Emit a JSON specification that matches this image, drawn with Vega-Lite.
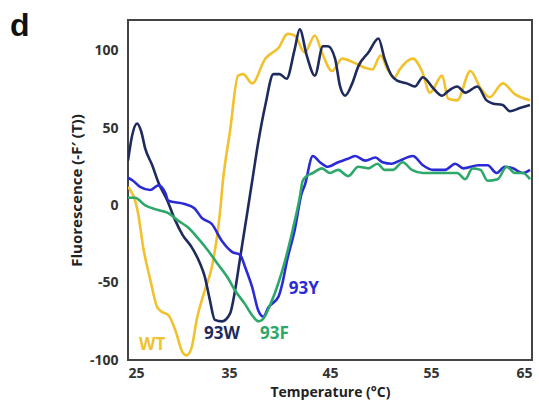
{
  "$schema": "https://vega.github.io/schema/vega-lite/v6.json",
  "width": 404,
  "height": 340,
  "autosize": "none",
  "padding": {"left": 128, "top": 20, "right": 7, "bottom": 43},
  "background": "white",
  "title": {"text": "d", "anchor": "start", "frame": "group", "orient": "top", "fontSize": 32, "fontWeight": "bold", "font": "Liberation Sans", "color": "#111", "dx": -118, "baseline": "alphabetic", "offset": 0, "dy": 48},
  "config": {
    "view": {"stroke": "#444", "strokeWidth": 2},
    "axis": {"domain": false, "ticks": false, "grid": false, "labelFont": "Open Sans", "labelFontWeight": "bold", "labelFontSize": 14, "labelColor": "#333", "titleFont": "Open Sans", "titleFontWeight": "bold", "titleFontSize": 15, "titleColor": "#222", "labelExpr": "replace(datum.label, '−', '-')"}
  },
  "datasets": {
    "curves": [
      {"s": "WT", "T": 25.0, "F": 12}, {"s": "WT", "T": 26.0, "F": -5}, {"s": "WT", "T": 26.5, "F": -27}, {"s": "WT", "T": 27.2, "F": -48}, {"s": "WT", "T": 27.9, "F": -66}, {"s": "WT", "T": 28.4, "F": -69}, {"s": "WT", "T": 29.0, "F": -71}, {"s": "WT", "T": 29.7, "F": -81}, {"s": "WT", "T": 30.4, "F": -95}, {"s": "WT", "T": 30.8, "F": -97}, {"s": "WT", "T": 31.3, "F": -92}, {"s": "WT", "T": 31.8, "F": -74}, {"s": "WT", "T": 32.6, "F": -55}, {"s": "WT", "T": 33.3, "F": -40}, {"s": "WT", "T": 34.1, "F": -5}, {"s": "WT", "T": 34.4, "F": 16}, {"s": "WT", "T": 35.1, "F": 48}, {"s": "WT", "T": 35.9, "F": 84}, {"s": "WT", "T": 36.4, "F": 85}, {"s": "WT", "T": 37.3, "F": 79}, {"s": "WT", "T": 38.6, "F": 95}, {"s": "WT", "T": 38.9, "F": 97}, {"s": "WT", "T": 39.9, "F": 102}, {"s": "WT", "T": 40.8, "F": 111}, {"s": "WT", "T": 41.5, "F": 110}, {"s": "WT", "T": 42.5, "F": 99}, {"s": "WT", "T": 43.5, "F": 110}, {"s": "WT", "T": 44.2, "F": 99}, {"s": "WT", "T": 45.2, "F": 87}, {"s": "WT", "T": 46.2, "F": 95}, {"s": "WT", "T": 47.5, "F": 92}, {"s": "WT", "T": 48.5, "F": 89}, {"s": "WT", "T": 49.2, "F": 88}, {"s": "WT", "T": 50.0, "F": 97}, {"s": "WT", "T": 50.7, "F": 88}, {"s": "WT", "T": 51.4, "F": 83}, {"s": "WT", "T": 51.9, "F": 88}, {"s": "WT", "T": 53.2, "F": 95}, {"s": "WT", "T": 54.1, "F": 87}, {"s": "WT", "T": 54.9, "F": 73}, {"s": "WT", "T": 56.1, "F": 84}, {"s": "WT", "T": 56.7, "F": 69}, {"s": "WT", "T": 57.6, "F": 68}, {"s": "WT", "T": 58.9, "F": 87}, {"s": "WT", "T": 59.9, "F": 76}, {"s": "WT", "T": 60.8, "F": 70}, {"s": "WT", "T": 62.1, "F": 79}, {"s": "WT", "T": 63.3, "F": 72}, {"s": "WT", "T": 64.8, "F": 68},

      {"s": "93W", "T": 25.0, "F": 29}, {"s": "93W", "T": 25.4, "F": 45}, {"s": "93W", "T": 25.9, "F": 53}, {"s": "93W", "T": 26.3, "F": 48}, {"s": "93W", "T": 26.7, "F": 37}, {"s": "93W", "T": 27.4, "F": 26}, {"s": "93W", "T": 28.0, "F": 15}, {"s": "93W", "T": 28.9, "F": 3}, {"s": "93W", "T": 29.7, "F": -10}, {"s": "93W", "T": 30.4, "F": -19}, {"s": "93W", "T": 31.3, "F": -27}, {"s": "93W", "T": 32.1, "F": -37}, {"s": "93W", "T": 32.6, "F": -46}, {"s": "93W", "T": 33.1, "F": -61}, {"s": "93W", "T": 33.6, "F": -74}, {"s": "93W", "T": 34.3, "F": -75}, {"s": "93W", "T": 35.1, "F": -70}, {"s": "93W", "T": 35.6, "F": -55}, {"s": "93W", "T": 36.1, "F": -34}, {"s": "93W", "T": 36.8, "F": -5}, {"s": "93W", "T": 37.3, "F": 16}, {"s": "93W", "T": 37.9, "F": 41}, {"s": "93W", "T": 38.6, "F": 65}, {"s": "93W", "T": 39.4, "F": 85}, {"s": "93W", "T": 40.0, "F": 85}, {"s": "93W", "T": 40.7, "F": 82}, {"s": "93W", "T": 41.5, "F": 101}, {"s": "93W", "T": 42.0, "F": 114}, {"s": "93W", "T": 42.7, "F": 97}, {"s": "93W", "T": 43.5, "F": 84}, {"s": "93W", "T": 44.3, "F": 103}, {"s": "93W", "T": 44.8, "F": 103}, {"s": "93W", "T": 45.5, "F": 95}, {"s": "93W", "T": 46.0, "F": 77}, {"s": "93W", "T": 46.5, "F": 71}, {"s": "93W", "T": 47.2, "F": 79}, {"s": "93W", "T": 47.8, "F": 90}, {"s": "93W", "T": 48.8, "F": 99}, {"s": "93W", "T": 49.8, "F": 108}, {"s": "93W", "T": 50.4, "F": 95}, {"s": "93W", "T": 51.1, "F": 84}, {"s": "93W", "T": 51.6, "F": 81}, {"s": "93W", "T": 52.6, "F": 79}, {"s": "93W", "T": 53.4, "F": 77}, {"s": "93W", "T": 54.2, "F": 83}, {"s": "93W", "T": 55.2, "F": 76}, {"s": "93W", "T": 56.1, "F": 71}, {"s": "93W", "T": 56.7, "F": 74}, {"s": "93W", "T": 57.6, "F": 77}, {"s": "93W", "T": 58.4, "F": 73}, {"s": "93W", "T": 59.6, "F": 77}, {"s": "93W", "T": 60.5, "F": 68}, {"s": "93W", "T": 61.1, "F": 66}, {"s": "93W", "T": 62.1, "F": 65}, {"s": "93W", "T": 62.8, "F": 61}, {"s": "93W", "T": 63.8, "F": 63}, {"s": "93W", "T": 64.8, "F": 65},

      {"s": "93Y", "T": 25.0, "F": 18}, {"s": "93Y", "T": 25.5, "F": 16}, {"s": "93Y", "T": 26.2, "F": 12}, {"s": "93Y", "T": 27.2, "F": 10}, {"s": "93Y", "T": 28.0, "F": 13}, {"s": "93Y", "T": 28.7, "F": 8}, {"s": "93Y", "T": 29.0, "F": 3}, {"s": "93Y", "T": 30.6, "F": 1}, {"s": "93Y", "T": 31.6, "F": -2}, {"s": "93Y", "T": 32.3, "F": -8}, {"s": "93Y", "T": 33.3, "F": -12}, {"s": "93Y", "T": 34.3, "F": -23}, {"s": "93Y", "T": 35.3, "F": -30}, {"s": "93Y", "T": 36.1, "F": -32}, {"s": "93Y", "T": 36.6, "F": -40}, {"s": "93Y", "T": 37.3, "F": -53}, {"s": "93Y", "T": 37.9, "F": -68}, {"s": "93Y", "T": 38.4, "F": -72}, {"s": "93Y", "T": 38.9, "F": -66}, {"s": "93Y", "T": 39.9, "F": -59}, {"s": "93Y", "T": 40.3, "F": -50}, {"s": "93Y", "T": 40.7, "F": -37}, {"s": "93Y", "T": 41.5, "F": -16}, {"s": "93Y", "T": 42.2, "F": 8}, {"s": "93Y", "T": 42.5, "F": 13}, {"s": "93Y", "T": 43.3, "F": 32}, {"s": "93Y", "T": 44.0, "F": 28}, {"s": "93Y", "T": 44.8, "F": 25}, {"s": "93Y", "T": 45.8, "F": 28}, {"s": "93Y", "T": 46.7, "F": 30}, {"s": "93Y", "T": 47.5, "F": 32}, {"s": "93Y", "T": 48.5, "F": 29}, {"s": "93Y", "T": 49.5, "F": 31}, {"s": "93Y", "T": 50.2, "F": 28}, {"s": "93Y", "T": 51.1, "F": 27}, {"s": "93Y", "T": 51.9, "F": 29}, {"s": "93Y", "T": 53.2, "F": 32}, {"s": "93Y", "T": 54.2, "F": 26}, {"s": "93Y", "T": 55.2, "F": 23}, {"s": "93Y", "T": 56.4, "F": 23}, {"s": "93Y", "T": 57.4, "F": 27}, {"s": "93Y", "T": 58.2, "F": 24}, {"s": "93Y", "T": 59.7, "F": 26}, {"s": "93Y", "T": 60.6, "F": 26}, {"s": "93Y", "T": 61.5, "F": 21}, {"s": "93Y", "T": 62.3, "F": 25}, {"s": "93Y", "T": 63.1, "F": 24}, {"s": "93Y", "T": 64.1, "F": 21}, {"s": "93Y", "T": 64.8, "F": 23},

      {"s": "93F", "T": 25.0, "F": 5}, {"s": "93F", "T": 25.7, "F": 5}, {"s": "93F", "T": 26.7, "F": 0}, {"s": "93F", "T": 28.0, "F": -3}, {"s": "93F", "T": 29.0, "F": -5}, {"s": "93F", "T": 30.0, "F": -10}, {"s": "93F", "T": 30.9, "F": -14}, {"s": "93F", "T": 31.9, "F": -21}, {"s": "93F", "T": 32.9, "F": -29}, {"s": "93F", "T": 33.9, "F": -38}, {"s": "93F", "T": 34.8, "F": -46}, {"s": "93F", "T": 35.6, "F": -55}, {"s": "93F", "T": 36.6, "F": -64}, {"s": "93F", "T": 37.4, "F": -72}, {"s": "93F", "T": 37.9, "F": -75}, {"s": "93F", "T": 38.3, "F": -74}, {"s": "93F", "T": 39.1, "F": -64}, {"s": "93F", "T": 39.9, "F": -50}, {"s": "93F", "T": 40.5, "F": -37}, {"s": "93F", "T": 41.3, "F": -16}, {"s": "93F", "T": 42.0, "F": 5}, {"s": "93F", "T": 42.3, "F": 16}, {"s": "93F", "T": 42.7, "F": 19}, {"s": "93F", "T": 43.3, "F": 21}, {"s": "93F", "T": 44.2, "F": 24}, {"s": "93F", "T": 45.0, "F": 21}, {"s": "93F", "T": 45.8, "F": 23}, {"s": "93F", "T": 46.8, "F": 19}, {"s": "93F", "T": 47.8, "F": 25}, {"s": "93F", "T": 48.8, "F": 24}, {"s": "93F", "T": 49.7, "F": 27}, {"s": "93F", "T": 50.4, "F": 23}, {"s": "93F", "T": 51.2, "F": 23}, {"s": "93F", "T": 52.2, "F": 28}, {"s": "93F", "T": 53.1, "F": 23}, {"s": "93F", "T": 54.2, "F": 21}, {"s": "93F", "T": 55.4, "F": 21}, {"s": "93F", "T": 56.6, "F": 21}, {"s": "93F", "T": 57.6, "F": 21}, {"s": "93F", "T": 58.4, "F": 17}, {"s": "93F", "T": 59.1, "F": 24}, {"s": "93F", "T": 59.9, "F": 23}, {"s": "93F", "T": 60.6, "F": 16}, {"s": "93F", "T": 61.6, "F": 17}, {"s": "93F", "T": 62.5, "F": 25}, {"s": "93F", "T": 63.3, "F": 21}, {"s": "93F", "T": 64.1, "F": 21}, {"s": "93F", "T": 64.8, "F": 17}
    ],
    "labels": [
      {"s": "WT", "T": 27.4, "F": -90},
      {"s": "93W", "T": 34.3, "F": -83},
      {"s": "93F", "T": 39.5, "F": -83},
      {"s": "93Y", "T": 42.4, "F": -54}
    ]
  },
  "layer": [
    {
      "data": {"name": "curves"},
      "mark": {"type": "line", "interpolate": "monotone", "strokeWidth": 2.6, "clip": true},
      "encoding": {
        "x": {"field": "T", "type": "quantitative", "scale": {"domain": [25, 65], "nice": false}, "axis": {"values": [25, 35, 45, 55, 65], "title": "Temperature (°C)", "titleFontSize": 14, "labelPadding": 6, "titlePadding": 5}},
        "y": {"field": "F", "type": "quantitative", "scale": {"domain": [-100, 120], "nice": false}, "axis": {"values": [-100, -50, 0, 50, 100], "title": "Fluorescence (-F′ (T))", "labelPadding": 10, "titlePadding": 5}},
        "color": {"field": "s", "type": "nominal", "scale": {"domain": ["WT", "93W", "93Y", "93F"], "range": ["#F2C12E", "#1E2B5C", "#2B2BD6", "#2EA86A"]}, "legend": null},
        "detail": {"field": "s"}
      }
    },
    {
      "data": {"name": "labels"},
      "mark": {"type": "text", "font": "Open Sans", "fontWeight": "bold", "fontSize": 17},
      "encoding": {
        "x": {"field": "T", "type": "quantitative"},
        "y": {"field": "F", "type": "quantitative"},
        "text": {"field": "s"},
        "color": {"field": "s", "type": "nominal", "scale": {"domain": ["WT", "93W", "93Y", "93F"], "range": ["#E9BE3C", "#1E2B5C", "#2B2BD6", "#2EA86A"]}, "legend": null}
      }
    }
  ]
}
